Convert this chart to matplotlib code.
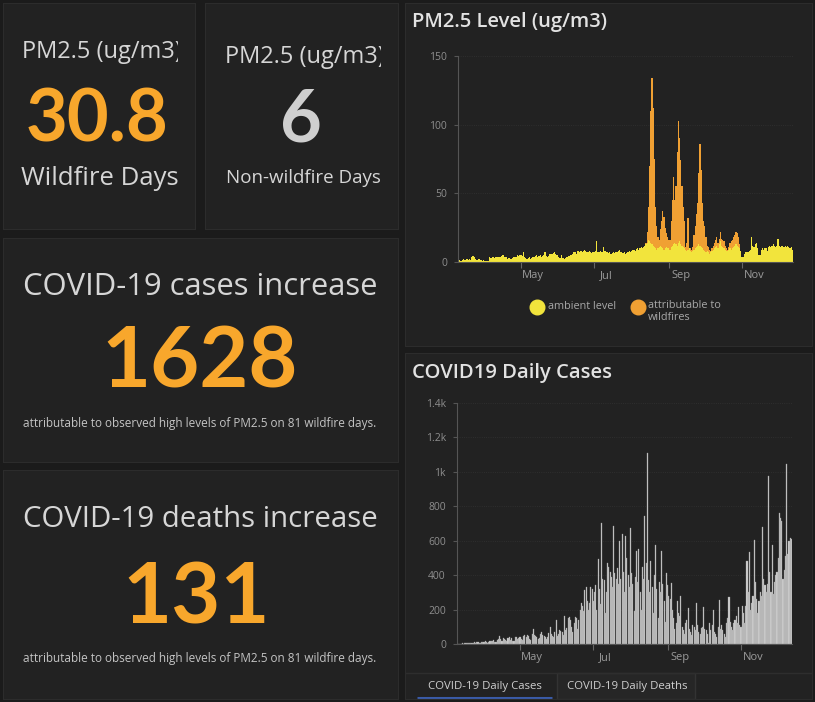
import matplotlib
matplotlib.use('Agg')
import matplotlib.pyplot as plt
import matplotlib.dates as mdates
from matplotlib.patches import Rectangle
import pandas as pd

plt.rcParams['font.family'] = ['Open Sans', 'DejaVu Sans']

W, H = 815, 702

# indicator cards
pm_wildfire = '30.8'
pm_nonwildfire = '6'
cases_increase = '1628'
deaths_increase = '131'
note = 'attributable to observed high levels of PM2.5 on 81 wildfire days.'

# daily series start 2020-03-10
start_day = '2020-03-10'

# PM2.5 ambient level (ug/m3), Mar 10 .. Dec 13
ambient = [
    1.5, 1.5, 1, 1.5, 2, 1.5, 1.5, 2, 1.5, 2, 1.5, 4, 4.5, 4, 2, 1.5, 1.5, 2, 1.5, 1.5, 1, 1.5,
    0.5, 0.5, 0.5, 1, 3.5, 3, 3.5, 4, 3, 3.5, 3.5, 4, 4, 3.5, 4.5, 5, 4, 3.5, 4, 2.5,
    3, 2.5, 2.5, 3, 3.5, 4, 3.5, 5, 4.5, 5,
    5, 4.5, 7.5, 4, 3, 2.5, 3, 3.5, 2.5, 3, 3.5, 4, 4.5, 5, 4, 4.5, 5, 4, 4.5, 5,
    7, 4.5, 4, 4.5, 6, 5.5, 6, 6.5, 7.5, 6, 5,
    4, 3, 3, 5, 3, 2.5, 3, 3.5, 4, 4.5, 5, 5, 6, 7, 7.5, 6, 8, 8, 7.5, 8,
    7, 8, 8.5, 8, 7, 7.5, 8, 7, 6.5, 7,
    7, 8, 15, 7.5, 7, 8, 7.5, 7, 11, 8, 7.5, 7, 6.5, 7, 6, 6.5, 7, 6.5, 7, 7.5,
    8, 9, 7.5, 7, 6.5, 7, 6, 6.5, 7, 8, 7.5,
    8, 8.5, 9, 8, 9.5, 10, 9, 10, 11, 10, 11, 12, 13, 14, 16, 15, 14, 13, 12, 11,
    10, 9, 10, 11, 12, 11, 10, 9, 10, 11, 10,
    10, 9, 11, 12, 13, 14, 13, 12, 14, 15, 13, 12, 11, 10, 9, 8, 9, 10, 8, 7,
    8, 9, 10, 11, 12, 13, 12, 11, 10, 9,
    8, 7, 8, 7, 6, 7, 8, 9, 10, 11, 12, 10, 13, 15, 12, 11, 10, 9, 8, 8,
    9, 10, 9, 10, 11, 12, 13, 12, 11, 10, 8,
    4, 4, 6, 7, 7.5, 7, 8, 9, 18, 12, 11, 13, 14, 10, 5, 5, 9, 10, 9, 10,
    10, 8, 11, 12, 11, 12, 13, 12, 11, 12,
    17, 12, 11, 12, 12, 11, 12, 11, 12, 11, 10, 11, 9,
]

# PM2.5 attributable to wildfires (stacked on ambient)
wildfire = [0] * 144 + [
    0, 0, 0, 0, 0, 0, 0, 0, 0, 0, 0, 0,
    1, 8, 24, 55, 96, 121, 100, 64, 30, 17, 8, 5, 12, 19, 27, 24, 15, 10, 8,
    6, 7, 19, 33, 49, 31, 42, 68, 89, 75, 61, 43, 29, 20, 2, 6, 23, 0, 2, 2,
    3, 11, 16, 24, 31, 52, 74, 56, 33, 21,
    18, 11, 4, 4, 3, 1, 2, 3, 4, 5, 6, 4, 4, 7, 5, 5, 5, 3, 2, 1,
    2, 4, 6, 6, 7, 8, 9, 9, 7, 3, 0,
] + [0] * 43

# COVID-19 daily cases
cases = [
    1, 0, 2, 1, 3, 2, 4, 3, 5, 6, 4, 8, 6, 5, 9, 7, 10, 12, 8, 6, 11, 14,
    12, 16, 10, 8, 14, 18, 15, 20, 22, 12, 10, 25, 30, 45, 28, 20, 35, 30, 22, 18,
    32, 40, 26, 34, 20, 16, 38, 42, 30, 36,
    40, 28, 22, 45, 50, 38, 55, 48, 30, 25, 60, 87, 52, 45, 40, 28, 35, 60, 70, 55,
    48, 40, 30, 42, 65, 100, 58, 45, 40, 70, 138,
    45, 60, 80, 75, 68, 50, 160, 80, 95, 150, 155, 140, 100, 70, 120, 155, 150, 90, 140, 200,
    238, 220, 190, 316, 330, 250, 200, 240, 330, 320,
    250, 300, 340, 200, 494, 320, 230, 703, 380, 374, 180, 300, 470, 450, 420, 390, 330, 684, 410, 380,
    440, 350, 600, 380, 640, 420, 300, 626, 500, 400, 330,
    674, 410, 350, 190, 390, 540, 360, 554, 300, 200, 450, 380, 742, 470, 1110, 370, 300, 480, 330, 180,
    400, 577, 320, 150, 360, 300, 540, 350, 250, 130, 413,
    340, 280, 260, 355, 200, 150, 90, 120, 250, 180, 160, 281, 100, 80, 60, 120, 140, 209, 90, 70,
    50, 110, 100, 80, 238, 110, 70, 60, 95, 100,
    213, 90, 80, 60, 5, 120, 80, 110, 200, 70, 60, 40, 100, 258, 90, 110, 80, 60, 40, 120,
    150, 271, 130, 100, 80, 120, 140, 160, 120, 213, 110,
    100, 223, 180, 120, 220, 480, 300, 533, 200, 240, 280, 607, 360, 260, 180, 250, 300, 280, 678, 380,
    340, 300, 350, 975, 420, 300, 578, 290, 360, 400,
    420, 500, 762, 733, 713, 380, 430, 510, 1043, 520, 600, 616, 610,
]

cases_ticks = [0, 200, 400, 600, 800, 1000, 1200, 1400]
cases_tick_labels = ['0', '200', '400', '600', '800', '1k', '1.2k', '1.4k']
pm_ticks = [0, 50, 100, 150]
legend_labels = ['ambient level', 'attributable to\nwildfires']

dates = pd.date_range(start_day, periods=len(cases), freq='D')

BG = '#1b1b1b'
PANEL = '#222222'
LIGHT = '#d6d6d6'
ORANGE = '#f8a72c'
YELLOW = '#f2e43c'
FIRE = '#f0a033'
GREY = '#8e8e8e'
NUMFONT = ['Lato', 'DejaVu Sans']

fig = plt.figure(figsize=(W / 100, H / 100), dpi=100, facecolor=BG)


def panel(x0, y0, x1, y1):
    ax = fig.add_axes([x0 / W, 1 - y1 / H, (x1 - x0) / W, (y1 - y0) / H])
    ax.set_facecolor(PANEL)
    ax.set_xticks([])
    ax.set_yticks([])
    for s in ax.spines.values():
        s.set_color('#2c2c2c')
    ax.set_xlim(x0, x1)
    ax.set_ylim(y1, y0)
    return ax


# top-left indicators
pa = panel(3, 3, 195, 229)
t = pa.text(22, 58, 'PM2.5 (ug/m3)', color=LIGHT, fontsize=17, clip_on=True)
t.set_clip_path(Rectangle((3, 3), 175, 226, transform=pa.transData))
pa.text(97, 142, pm_wildfire, color=ORANGE, fontsize=52, fontweight='bold',
        ha='center', family=NUMFONT)
pa.text(100, 185, 'Wildfire Days', color=LIGHT, fontsize=18.5, ha='center')

pb = panel(205, 3, 398, 229)
t = pb.text(225, 63, 'PM2.5 (ug/m3)', color=LIGHT, fontsize=17, clip_on=True)
t.set_clip_path(Rectangle((205, 3), 176, 226, transform=pb.transData))
pb.text(301, 142, pm_nonwildfire, color='#cfcfcf', fontsize=52, fontweight='bold',
        ha='center', family=NUMFONT)
pb.text(303, 183, 'Non-wildfire Days', color=LIGHT, fontsize=13.5, ha='center')

pc = panel(3, 238, 398, 462)
pc.text(200, 295, 'COVID-19 cases increase', color=LIGHT, fontsize=22.3, ha='center')
pc.text(200, 387, cases_increase, color=ORANGE, fontsize=61, fontweight='bold',
        ha='center', family=NUMFONT)
pc.text(200, 427, note, color='#c4c4c4', fontsize=8.5, ha='center')

pd_ = panel(3, 470, 398, 699)
pd_.text(200, 527, 'COVID-19 deaths increase', color=LIGHT, fontsize=21.2, ha='center')
pd_.text(196, 623, deaths_increase, color=ORANGE, fontsize=61, fontweight='bold',
         ha='center', family=NUMFONT)
pd_.text(200, 662, note, color='#c4c4c4', fontsize=8.5, ha='center')

# right side panels
pe = panel(405, 3, 812, 346)
pe.text(412, 27, 'PM2.5 Level (ug/m3)', color='#e2e2e2', fontsize=14.5, fontweight='semibold')
# legend
pe.plot([537], [307], 'o', ms=10.5, color=YELLOW)
pe.text(548, 307, legend_labels[0], color='#a8a8a8', fontsize=7.8, va='center')
pe.plot([638], [307], 'o', ms=10.5, color=FIRE)
pe.text(648, 300, legend_labels[1], color='#a8a8a8', fontsize=7.8, va='top', linespacing=1.15)

pf = panel(405, 353, 812, 699)
pf.text(412, 378, 'COVID19 Daily Cases', color='#e2e2e2', fontsize=14.5, fontweight='semibold')
pf.plot([405, 812], [673, 673], color='#2e2e2e', lw=1)
pf.add_patch(Rectangle((557, 673), 138, 26, facecolor='#262626', edgecolor='#333333', lw=1))
pf.plot([417, 552], [698, 698], color='#3a5ba8', lw=2.2, solid_capstyle='butt')
pf.text(485, 686, 'COVID-19 Daily Cases', color='#cfcfcf', fontsize=8.2, ha='center', va='center')
pf.text(627, 686, 'COVID-19 Daily Deaths', color='#cfcfcf', fontsize=8.2, ha='center', va='center')

xmin = dates[0] - pd.Timedelta(hours=12)
xmax = dates[-1] + pd.Timedelta(hours=12)


def style_chart(ax):
    ax.set_facecolor('none')
    ax.set_xlim(xmin, xmax)
    for side in ['top', 'right']:
        ax.spines[side].set_visible(False)
    ax.spines['left'].set_color('#555555')
    ax.spines['bottom'].set_color('#555555')
    ax.xaxis.set_major_locator(mdates.MonthLocator(bymonth=[5, 7, 9, 11]))
    ax.xaxis.set_major_formatter(plt.NullFormatter())
    ax.xaxis.set_minor_locator(mdates.MonthLocator(bymonth=[5, 7, 9, 11], bymonthday=11))
    ax.xaxis.set_minor_formatter(mdates.DateFormatter('%b'))
    ax.tick_params(axis='x', which='major', length=4, color='#666666')
    ax.tick_params(axis='x', which='minor', length=0, pad=6, labelsize=8, labelcolor='#9a9a9a')
    ax.tick_params(axis='y', length=3, color='#555555', pad=5, labelsize=7.5, labelcolor=GREY)
    ax.grid(axis='y', color='#333333', lw=0.6, ls=':')
    ax.set_axisbelow(True)


# PM2.5 stacked bars
ax1 = fig.add_axes([458 / W, 1 - 262 / H, (793 - 458) / W, (262 - 56) / H])
style_chart(ax1)
ax1.bar(dates, ambient, width=1.0, color=YELLOW, linewidth=0)
ax1.bar(dates, wildfire, bottom=ambient, width=1.0, color=FIRE, linewidth=0)
ax1.set_ylim(0, 150)
ax1.set_yticks(pm_ticks)

# COVID daily cases
ax2 = fig.add_axes([457 / W, 1 - 644 / H, (792 - 457) / W, (644 - 403) / H])
style_chart(ax2)
ax2.bar(dates, cases, width=0.9, color='#d2d2d2', edgecolor='#9a9a9a', linewidth=0.25)
ax2.set_ylim(0, 1400)
ax2.set_yticks(cases_ticks)
ax2.set_yticklabels(cases_tick_labels)

fig.savefig('out.png', dpi=100, facecolor=BG)
